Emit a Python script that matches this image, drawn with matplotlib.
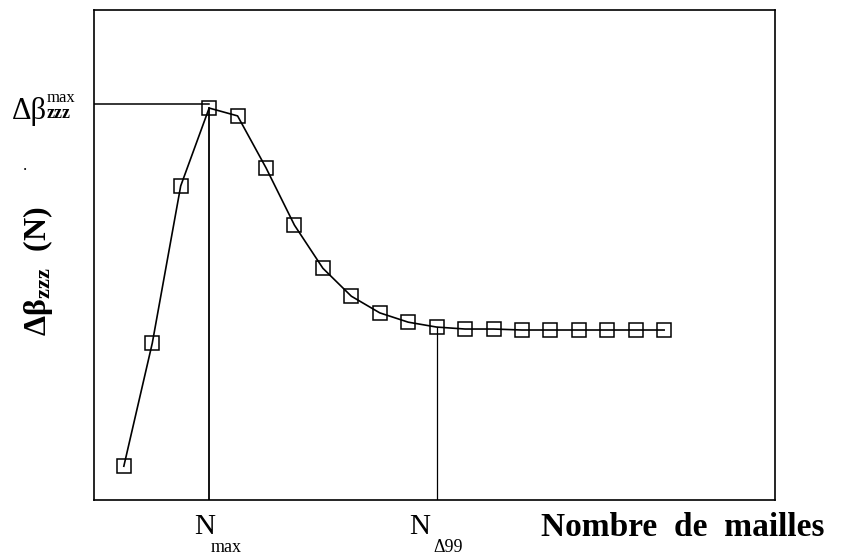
import matplotlib.pyplot as plt

plt.rcParams['font.family'] = 'Liberation Serif'
plt.rcParams['mathtext.fontset'] = 'custom'
plt.rcParams['mathtext.rm'] = 'Liberation Serif'
plt.rcParams['mathtext.it'] = 'Liberation Serif'
plt.rcParams['mathtext.bf'] = 'Liberation Serif:bold'

# mesh size index and hyperpolarizability difference (arbitrary units)
n_mesh = list(range(1, 21))
dbeta = [0.069, 0.320, 0.641, 0.800, 0.784, 0.678, 0.561, 0.473, 0.416, 0.382,
         0.363, 0.353, 0.349, 0.349, 0.347, 0.347, 0.347, 0.347, 0.347, 0.347]

i_max = 3      # N_max
i_99 = 11      # N_delta99

fig = plt.figure(figsize=(8.45, 5.59), dpi=100)
ax = fig.add_axes([0.1112, 0.1055, 0.806, 0.8765])

ax.plot(n_mesh, dbeta, color='black', lw=1.2, marker='s', markersize=10,
        markerfacecolor='none', markeredgecolor='black', markeredgewidth=1.1)

# guide lines for the maximum and the 99% convergence point
ax.plot([-1, n_mesh[i_max]], [dbeta[i_max] + 0.008] * 2, color='black', lw=1.1)
ax.plot([n_mesh[i_max]] * 2, [0, dbeta[i_max]], color='black', lw=1.3)
ax.plot([n_mesh[i_99]] * 2, [0, dbeta[i_99]], color='black', lw=0.9)

ax.set_xlim(-0.05, 23.9)
ax.set_ylim(0, 1)
ax.set_xticks([])
ax.set_yticks([])
for s in ax.spines.values():
    s.set_linewidth(1.2)

# label of the maximum value
fig.text(12 / 845, 1 - 112 / 559, 'Δβ', fontsize=22, va='center', ha='left')
fig.text(47 / 845, 1 - 98 / 559, 'max', fontsize=12, va='center', ha='left')
fig.text(47 / 845, 1 - 114 / 559, 'zzz', fontsize=13, va='center', ha='left',
         fontweight='bold')

# y axis title
fig.text(38 / 845, 1 - 271 / 559, r'$\mathbf{\Delta\beta_{zzz}\ \ (N)}$',
         fontsize=23, rotation=90, va='center', ha='center')
fig.text(25 / 845, 1 - 166 / 559, '.', fontsize=12, ha='center', va='center')

# x axis labels
fig.text(205 / 845, 1 - 527 / 559, 'N', fontsize=21, ha='center', va='center')
fig.text(226 / 845, 1 - 548 / 559, 'max', fontsize=13, ha='center', va='center')
fig.text(420 / 845, 1 - 527 / 559, 'N', fontsize=21, ha='center', va='center')
fig.text(448 / 845, 1 - 547 / 559, 'Δ99', fontsize=13, ha='center', va='center')
fig.text(683 / 845, 1 - 527 / 559, 'Nombre  de  mailles', fontsize=24,
         fontweight='bold', ha='center', va='center')

fig.savefig('out.png', dpi=100)
